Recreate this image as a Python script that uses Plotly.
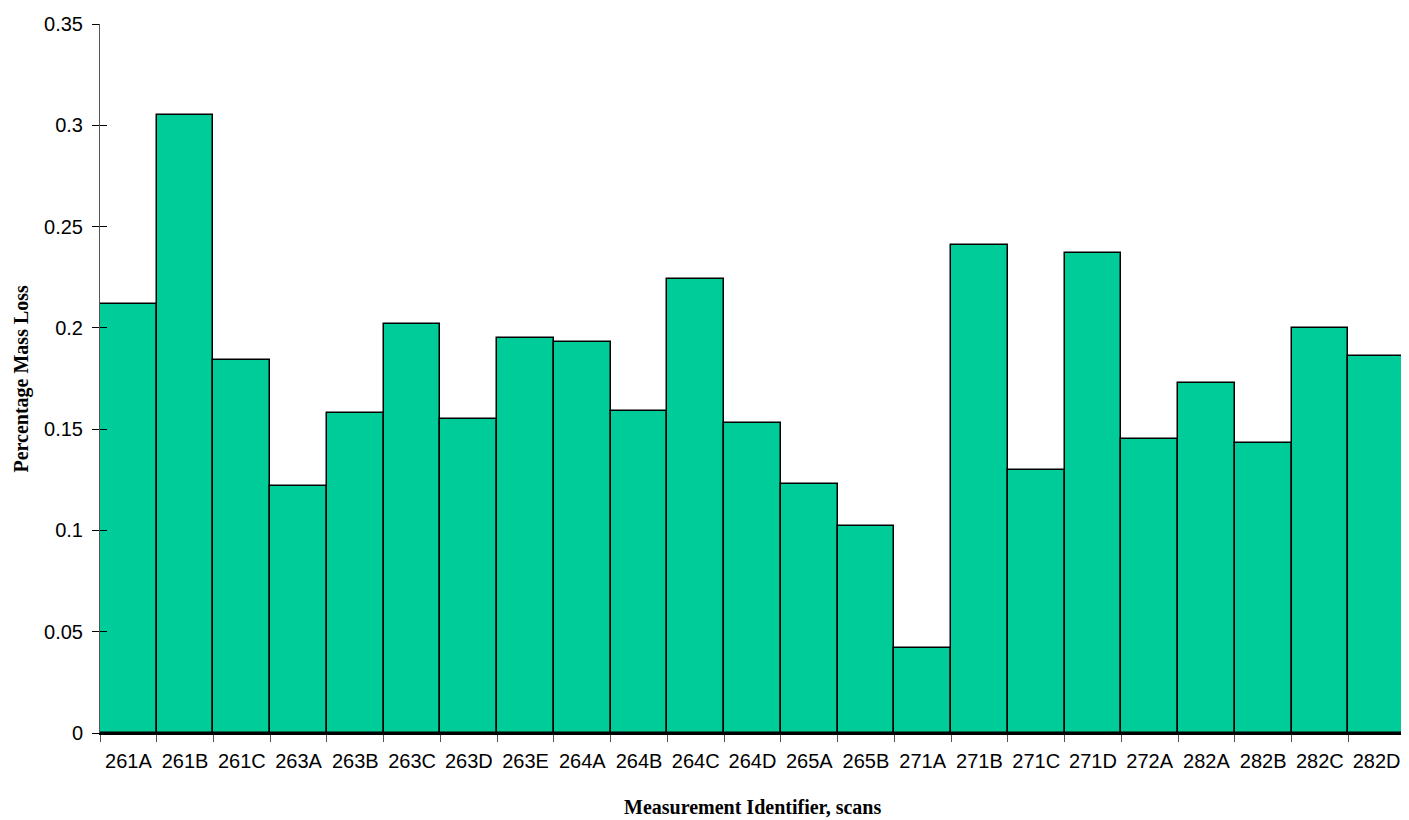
import plotly.graph_objects as go

categories = [
    "261A", "261B", "261C", "263A", "263B", "263C", "263D", "263E",
    "264A", "264B", "264C", "264D", "265A", "265B", "271A", "271B",
    "271C", "271D", "272A", "282A", "282B", "282C", "282D",
]
mass_loss = [
    0.212, 0.305, 0.184, 0.122, 0.158, 0.202, 0.155, 0.195,
    0.193, 0.159, 0.224, 0.153, 0.123, 0.102, 0.042, 0.241,
    0.130, 0.237, 0.145, 0.173, 0.143, 0.200, 0.186,
]
y_ticks = [0, 0.05, 0.1, 0.15, 0.2, 0.25, 0.3, 0.35]
y_tick_labels = ["0", "0.05", "0.1", "0.15", "0.2", "0.25", "0.3", "0.35"]

fig = go.Figure()
fig.add_trace(
    go.Bar(
        x=categories,
        y=mass_loss,
        marker=dict(color="#00CC99", line=dict(color="#000000", width=1.5)),
        showlegend=False,
    )
)
# invisible trace so the overlaid axis draws its inside tick marks
fig.add_trace(
    go.Scatter(x=[categories[0]], y=[0], yaxis="y2", mode="markers",
               marker=dict(opacity=0), showlegend=False, hoverinfo="skip")
)

tick_font = dict(family="Liberation Sans, Arial", size=20, color="#000000")
title_font = dict(family="Liberation Serif, Times New Roman", size=20, color="#000000")

# page body has an 8px margin, so the figure is sized/offset to compensate
fig.update_layout(
    width=1401,
    height=812,
    margin=dict(l=92, r=4, t=16, b=87),
    paper_bgcolor="white",
    plot_bgcolor="white",
    bargap=0,
    xaxis=dict(
        range=[-0.5, len(categories) - 0.5],
        tickfont=tick_font,
        tickangle=0,
        ticks="outside",
        ticklen=7,
        tickcolor="#555555",
        tickson="boundaries",
        ticklabelstandoff=9,
        showline=True,
        linecolor="#000000",
        linewidth=2,
        showgrid=False,
        automargin=False,
    ),
    yaxis=dict(
        range=[0, 0.35],
        tickvals=y_ticks,
        ticktext=y_tick_labels,
        tickfont=tick_font,
        ticks="outside",
        ticklen=7,
        tickcolor="#000000",
        ticklabelstandoff=5,
        showline=True,
        linecolor="#555555",
        linewidth=1,
        showgrid=False,
        zeroline=False,
        automargin=False,
    ),
    yaxis2=dict(
        overlaying="y",
        matches="y",
        side="left",
        tickvals=y_ticks,
        showticklabels=False,
        ticks="inside",
        ticklen=7,
        tickcolor="#000000",
        showgrid=False,
        zeroline=False,
        automargin=False,
    ),
    annotations=[
        dict(text="<b>Measurement Identifier, scans</b>", font=title_font,
             xref="paper", yref="paper", x=0.5, y=-0.1048,
             xanchor="center", yanchor="middle", showarrow=False),
        dict(text="<b>Percentage Mass Loss</b>", font=title_font, textangle=-90,
             xref="paper", yref="paper", x=-0.0605, y=0.5,
             xanchor="center", yanchor="middle", showarrow=False),
    ],
)

fig.write_html("out.html")
